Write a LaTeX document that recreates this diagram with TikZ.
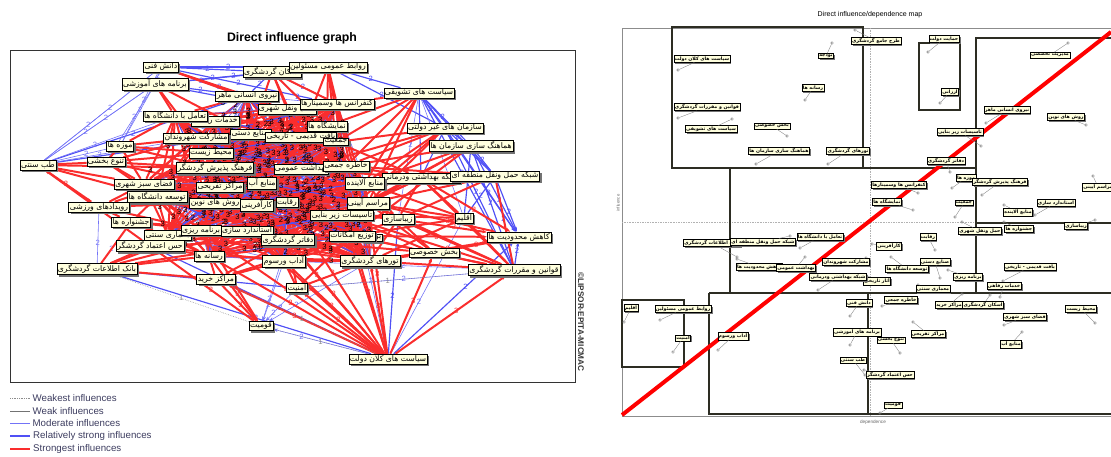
\documentclass[tikz,border=0pt]{standalone}
\usepackage{fontspec}
\setmainfont{Liberation Sans}
\newfontfamily\fa[Script=Arabic]{DejaVu Sans}
\TeXXeTstate=1
\usetikzlibrary{shadows,arrows.meta}
\definecolor{cream}{RGB}{255,255,222}
\definecolor{zonecol}{RGB}{45,45,35}
\definecolor{legtext}{RGB}{60,60,95}
\definecolor{infred}{RGB}{250,45,45}
\definecolor{infblue}{RGB}{80,80,245}
\pgfdeclarelayer{edges}
\pgfsetlayers{edges,main}
\def\corelist{5,6,7,9,10,11,12,13,14,15,19,22,23,24,27,28,29,30,31,32,33,34,35,37,41,42,43,44,46,49,50,51,58}

\begin{document}
\begin{tikzpicture}[x=0.3mm,y=-0.3mm]
\tikzstyle{lab}=[draw=black,fill=cream,inner sep=1pt,font=\fa\fontsize{6.6}{7.5}\selectfont,drop shadow={shadow xshift=.6mm,shadow yshift=-.6mm,fill=black!55,opacity=1}]
\tikzstyle{mlab}=[draw=black,fill=cream,inner sep=.8pt,font=\fa\bfseries\fontsize{4}{4.8}\selectfont,drop shadow={shadow xshift=.4mm,shadow yshift=-.4mm,fill=black!55,opacity=1}]
\tikzstyle{weakest}=[black!45,densely dotted,line width=.5pt]
\tikzstyle{weak}=[black!55,line width=.5pt]
\tikzstyle{moderate}=[infblue!80,line width=.5pt]
\tikzstyle{relstrong}=[infblue,line width=1pt]
\tikzstyle{strongest}=[infred,line width=1.7pt]
\tikzstyle{tip}=[-{Stealth[length=4pt,width=3pt]}]
\tikzstyle{num}=[font=\fontsize{6.5}{7}\selectfont,inner sep=.3pt]
\tikzstyle{zone}=[zonecol,line width=2pt]
\tikzstyle{pt}=[circle,draw=black!50,inner sep=0pt,minimum size=.8mm]
\tikzstyle{legend}=[anchor=west,text=legtext,font=\fontsize{8.3}{9}\selectfont,inner sep=2pt]
\useasboundingbox (0,0) rectangle (1111,456);

% influence graph
\node[font=\bfseries\fontsize{10.5}{12}\selectfont] (title) at (292,38) {Direct influence graph};
\draw[black!80,line width=.6pt] (10,50) rectangle (575,382);
\node[rotate=-90,font=\bfseries\fontsize{7}{8}\selectfont,black!80] (copy) at (581,322) {©LIPSOR-EPITA-MICMAC};

\foreach \n/\x/\y/\txt in {
3/272/72/اسکان گردشگری,4/328/67/روابط عمومی مسئولین,1/161/67/دانش فنی,2/155/84/برنامه های آموزشی,
5/247/96/نیروی انسانی ماهر,6/287/109/حمل ونقل شهری,7/337/104/کنفرانس ها وسمینارها,8/419/93/سیاست های تشویقی,
10/215/121/خدمات رفاهی,9/175/116/تعامل با دانشگاه ها,11/251/134/صنایع دستی,12/196/138/مشارکت شهروندان,
13/327/126/نمایشگاه ها,14/301/137/بافت قدیمی - تاریخی,15/336/142/جمعیت,16/445/128/سازمان های غیر دولتی,
17/471/146/هماهنگ سازی سازمان ها,18/120/146/موزه ها,19/211/153/محیط زیست,20/106/162/تنوع بخشی,
21/38/165/طب سنتی,23/301/169/بهداشت عمومی,22/215/168/فرهنگ پذیرش گردشگر,24/346/166/خاطره جمعی,
26/421/178/شبکه بهداشتی ودرمانی,25/495/176/شبکه حمل ونقل منطقه ای,27/365/183/منابع آلاینده,
28/144/184/فضای سبز شهری,30/262/183/منابع آب,29/220/187/مراکز تفریحی,31/157/197/توسعه دانشگاه ها,
32/215/203/روش های نوین,33/257/205/کارآفرینی,34/287/202/رقابت,35/368/203/مراسم آیینی,
36/99/207/رویدادهای ورزشی,37/342/215/تاسیسات زیر بنایی,38/398/219/زیباسازی,39/464/218/اقلیم,
40/131/222/جشنواره ها,43/168/235/معماری سنتی,41/201/230/برنامه ریزی,42/247/231/استاندارد سازی,
58/372/238/بودجه,44/352/236/توزیع امکانات,45/519/237/کاهش محدودیت ها,46/288/240/دفاتر گردشگری,
47/150/246/حس اعتماد گردشگر,48/434/253/بخش خصوصی,49/209/256/رسانه ها,50/370/261/تورهای گردشگری,
51/284/261/آداب ورسوم,52/97/269/بانک اطلاعات گردشگری,53/514/270/قوانین و مقررات گردشگری,
54/216/279/مراکز خرید,55/297/288/امنیت,56/261/326/قومیت,57/388/359/سیاست های کلان دولت}
  \node[lab] (g\n) at (\x,\y) {\beginR\txt\endR};

\begin{pgfonlayer}{edges}
\foreach \u [count=\ci] in \corelist {
  \foreach \v [count=\cj] in \corelist {
    \ifnum\ci<\cj
      \pgfmathtruncatemacro\w{mod(\u*7+\v*5,6)}
      \ifcase\w \draw[strongest] (g\u) -- (g\v);
      \or \draw[relstrong] (g\u) -- (g\v);
      \or \draw[strongest] (g\u) -- (g\v);
      \or \draw[strongest] (g\u) -- (g\v);
      \or \draw[moderate] (g\u) -- (g\v);
      \else \draw[strongest] (g\u) -- (g\v);
      \fi
    \fi
  }
}
\foreach \s/\ds in {1/{3,4,5,7,6,13},2/{3,4,5,6},3/{5,13,7},4/{8,16},8/{16,17,25,26,53},16/{17,25,53,26},17/{25,53,39},21/{5,11},52/{55},57/{52,47,38},25/{39,53}}
  \foreach \d in \ds \draw[relstrong] (g\s) -- node[num,pos=.45]{2} (g\d);
\foreach \s/\ds in {8/{45},16/{45},17/{45},25/{45},53/{45},57/{45}}
  \foreach \d in \ds \draw[relstrong,tip] (g\s) -- node[num,pos=.6]{2} (g\d);
\foreach \s/\ds in {1/{21,18},2/{21,20,18,1},3/{4},8/{38,39},18/{21},21/{1,2,9,12},52/{36,40},57/{39,24},53/{51,55}}
  \foreach \d in \ds \draw[moderate] (g\s) -- node[num,pos=.4]{2} (g\d);
\foreach \s/\ds in {55/{56},51/{56},46/{56},50/{56},57/{56}}
  \foreach \d in \ds \draw[moderate,tip] (g\s) -- node[num,pos=.7]{2} (g\d);
\foreach \s/\ds in {1/{6,13},2/{9,12,11},3/{6,7,13,11,14},4/{7,13,15,14,24},8/{7,13,15,24,27,35},16/{15,24,23,27,35,37},17/{24,27,35,37,44},18/{9,12,19,22,28,20},20/{12,19,22,28,31,29},21/{20,22,28,31},36/{28,31,41,32,22,40},40/{41,42,49,31,43},47/{41,49,42,46,51},52/{47,49,54,41,42,46,40},54/{49,51,46,44},55/{51,46,50,44},53/{48,50,44,37,38,35,26,25,39},48/{50,44,37,38,35,46},38/{35,37,27,26,44,50},39/{35,37,27,26,44,50},25/{26,27,24,35,38},26/{27,24,35,37,23,15}}
  \foreach \d in \ds \draw[strongest] (g\s) -- (g\d);
\foreach \s/\ds in {36/{21},47/{21},49/{56},54/{56},41/{56},47/{56},50/{45},48/{45},38/{45},44/{45},26/{45},35/{45},57/{55,51,46,50,44,37,34,42,33,48,53,54,49,41,35}}
  \foreach \d in \ds \draw[strongest,tip] (g\s) -- node[num,pos=.55]{3} (g\d);
\foreach \s/\ds in {52/{56},55/{53},56/{57},54/{57}}
  \foreach \d in \ds \draw[weakest] (g\s) -- node[num,pos=.5]{1} (g\d);
\foreach \u [count=\ci] in \corelist {
  \foreach \v [count=\cj] in \corelist {
    \ifnum\ci<\cj
      \pgfmathtruncatemacro\w{mod(\u*7+\v*5,6)}
      \pgfmathsetmacro\ps{0.15+mod(\u*3+\v,8)/10}
      \ifnum\w=4 \else
        \ifnum\w=1 \path (g\u) -- node[num,pos=\ps]{2} (g\v);
        \else \path (g\u) -- node[num,pos=\ps]{3} (g\v);
        \fi
      \fi
    \fi
  }
}
\end{pgfonlayer}

\coordinate (w) at (10,398); \draw[weakest] (w) -- ++(20,0) node[legend] {Weakest influences};
\coordinate (k) at (10,411); \draw[weak] (k) -- ++(20,0) node[legend] {Weak influences};
\coordinate (m) at (10,423); \draw[moderate] (m) -- ++(20,0) node[legend] {Moderate influences};
\coordinate (r) at (10,436); \draw[relstrong,line width=1.5pt] (r) -- ++(20,0) node[legend] {Relatively strong influences};
\coordinate (s) at (10,449); \draw[strongest,line width=1.5pt] (s) -- ++(20,0) node[legend] {Strongest influences};

% influence/dependence map
\node[font=\fontsize{6}{7}\selectfont] (maptitle) at (870,15) {Direct influence/dependence map};
\draw[black!45,line width=.5pt] (1111,28) -- (622,28) -- (622,416) -- (1111,416);
\draw[black!30,densely dotted,line width=.4pt] (870,28) -- (870,416);
\draw[black!30,densely dotted,line width=.4pt] (622,222) -- (1111,222);
\node[rotate=90,font=\fontsize{3.6}{4}\selectfont,black!60] (infl) at (618,203) {influence};
\node[font=\fontsize{4}{5}\selectfont,black!60] (dep) at (873,422) {dependence};
\draw[zone] (672,27) rectangle (863,168);
\draw[zone] (919,43) rectangle (960,110);
\draw[zone] (1111,38) -- (976,38) -- (976,293);
\draw[zone] (976,223) -- (1111,223);
\draw[zone] (863,168) -- (976,168);
\draw[zone] (730,168) -- (730,293);
\draw[zone] (709,293) -- (1111,293);
\draw[zone] (1111,414) -- (709,414) -- (709,293);
\draw[zone] (868,293) -- (868,414);
\draw[zone] (622,300) rectangle (684,367);
\draw[red,line width=3.4pt] (622,415) -- (1111,32);

\foreach \n/\bx/\by/\px/\py/\txt in {
1/702/59/678/70/سیاست های کلان دولت,2/826/56/832/43/بودجه,3/813/88/805/100/رسانه ها,
4/707/107/678/118/قوانین و مقررات گردشگری,5/711/129/732/119/سیاست های تشویقی,6/772/126/787/136/بخش خصوصی,
7/779/151/756/164/هماهنگ سازی سازمان ها,8/848/151/828/164/تورهای گردشگری,9/876/41/855/30/طرح جامع گردشگری,
10/944/39/928/52/حمایت دولت,11/950/92/940/103/ارزانی,12/1050/55/1068/43/مدیریت تخصصی,
13/1007/110/986/123/نیروی انسانی ماهر,14/1066/117/1086/125/روش های نوین,15/960/132/981/146/تاسیسات زیر بنایی,
16/946/161/950/172/دفاتر گردشگری,17/966/178/952/188/موزه ها,18/899/185/918/193/کنفرانس ها وسمینارها,
19/887/202/913/210/نمایشگاه ها,20/964/203/955/217/جمعیت,21/1000/182/982/195/فرهنگ پذیرش گردشگر,
22/1018/212/1004/205/منابع آلاینده,23/1056/203/1035/215/استاندارد سازی,24/1098/187/1093/176/مراسم آیینی,
25/1076/226/1095/220/زیباسازی,26/1019/229/1004/222/جشنواره ها,27/980/231/962/222/حمل ونقل شهری,
28/928/237/935/250/رقابت,29/889/246/872/244/کارآفرینی,30/935/262/940/278/صنایع دستی,
31/907/269/891/257/توسعه دانشگاه ها,32/968/277/948/270/برنامه ریزی,33/877/281/866/275/آثار تاریخی,
34/933/289/918/285/معماری سنتی,35/1030/267/1003/281/بافت قدیمی - تاریخی,36/1004/286/1000/297/خدمات رفاهی,
37/712/243/737/257/بانک اطلاعات گردشگری,38/763/242/790/236/شبکه حمل ونقل منطقه ای,39/759/267/737/259/کاهش محدودیت ها,
40/820/237/800/248/تعامل با دانشگاه ها,41/796/268/805/257/بهداشت عمومی,42/846/262/866/258/مشارکت شهروندان,
43/838/277/818/290/شبکه بهداشتی ودرمانی,44/901/300/882/306/خاطره جمعی,45/949/305/962/294/مراکز خرید,
46/983/305/990/295/اسکان گردشگری,47/1025/317/1004/325/فضای سبز شهری,48/1011/344/1022/332/منابع آب,
49/928/334/913/322/مراکز تفریحی,50/891/340/900/353/تنوع بخشی,51/890/375/864/370/حس اعتماد گردشگر,
52/893/405/880/413/قومیت,53/1081/309/1095/323/محیط زیست,54/631/308/624/322/اقلیم,
55/683/309/660/320/روابط عمومی مسئولین,56/683/338/673/352/امنیت,57/733/336/718/350/آداب ورسوم,
58/859/303/850/316/دانش فنی,59/857/332/850/345/برنامه های آموزشی,60/853/360/865/375/طب سنتی}
{
  \node[pt] (p\n) at (\px,\py) {};
  \node[mlab] (m\n) at (\bx,\by) {\beginR\txt\endR};
  \draw[black!50,line width=.3pt] (p\n) -- (m\n);
}
\end{tikzpicture}
\end{document}
